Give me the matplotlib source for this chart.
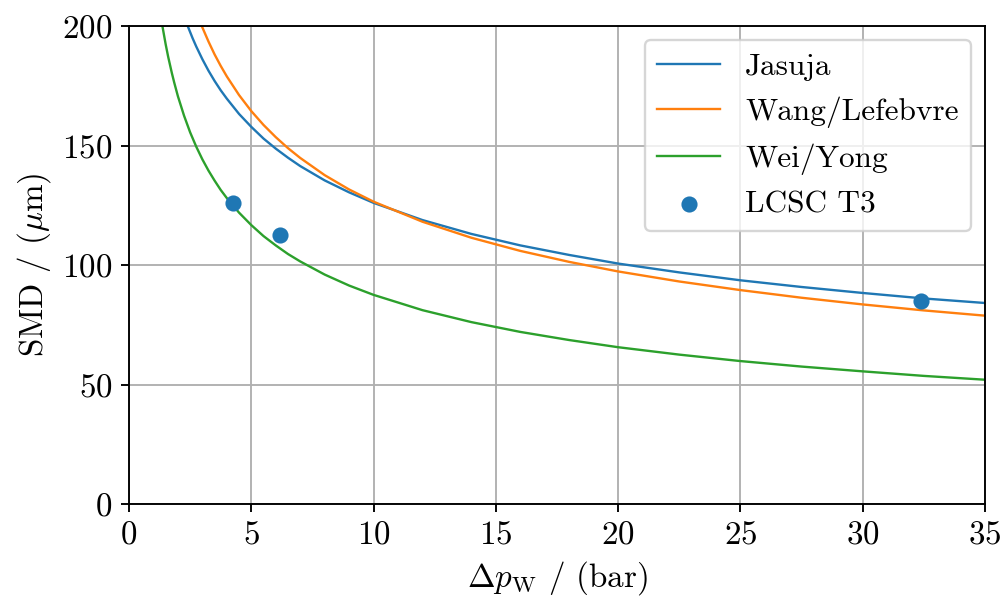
import matplotlib
matplotlib.use("Agg")
import matplotlib.pyplot as plt

plt.rcParams["font.family"] = "serif"
plt.rcParams["font.serif"] = ["cmr10", "DejaVu Serif"]
plt.rcParams["mathtext.fontset"] = "cm"
plt.rcParams["axes.formatter.use_mathtext"] = True
plt.rcParams["font.size"] = 14

# Jasuja correlation
p_jasuja = [2.4, 2.6, 2.75, 3.0, 3.25, 3.5, 3.75, 4.0, 4.5, 5.0, 5.5, 6.0, 6.5, 7.0,
            8.0, 9.0, 10.0, 12.0, 14.0, 16.0, 18.0, 20.0, 22.5, 25.0, 27.5, 30.0,
            32.5, 35.0]
smd_jasuja = [200.0, 194.9, 191.4, 186.1, 181.3, 177.0, 173.1, 169.6, 163.2, 157.8,
              152.9, 148.7, 144.9, 141.4, 135.4, 130.4, 126.0, 118.8, 113.0, 108.2,
              104.2, 100.6, 96.9, 93.6, 90.8, 88.3, 86.0, 84.1]

# Wang/Lefebvre correlation
p_wang = [2.95, 3.0, 3.25, 3.5, 3.75, 4.0, 4.5, 5.0, 5.5, 6.0, 6.5, 7.0, 8.0, 9.0,
          10.0, 12.0, 14.0, 16.0, 18.0, 20.0, 22.5, 25.0, 27.5, 30.0, 32.5, 35.0]
smd_wang = [200.5, 199.4, 193.5, 188.1, 183.3, 178.9, 171.1, 164.4, 158.6, 153.5,
            148.9, 144.8, 137.6, 131.6, 126.5, 118.1, 111.4, 105.9, 101.3, 97.3,
            93.1, 89.5, 86.3, 83.5, 81.0, 78.8]

# Wei/Yong correlation
p_wei = [1.36, 1.5, 1.6, 1.75, 1.85, 2.0, 2.25, 2.5, 2.75, 3.0, 3.25, 3.5, 3.75,
         4.0, 4.5, 5.0, 5.5, 6.0, 6.5, 7.0, 8.0, 9.0, 10.0, 12.0, 14.0, 16.0, 18.0,
         20.0, 22.5, 25.0, 27.5, 30.0, 32.5, 35.0]
smd_wei = [200.3, 192.3, 187.2, 180.4, 176.3, 170.6, 162.5, 155.5, 149.5, 144.2,
           139.5, 135.3, 131.4, 128.0, 121.9, 116.7, 112.1, 108.2, 104.6, 101.5,
           96.0, 91.4, 87.5, 81.1, 76.1, 72.0, 68.6, 65.6, 62.5, 59.8, 57.5, 55.5,
           53.6, 52.0]

# Measurements
p_lcsc = [4.26, 6.17, 32.4]
smd_lcsc = [126.0, 112.6, 84.8]

fig = plt.figure(figsize=(1003 / 170, 603 / 170), dpi=170)
ax = fig.add_axes([129 / 1003, 1 - 504 / 603, (985 - 129) / 1003, (504 - 26) / 603])

ax.plot(p_jasuja, smd_jasuja, color="C0", lw=1.0, label="Jasuja")
ax.plot(p_wang, smd_wang, color="C1", lw=1.0, label="Wang/Lefebvre")
ax.plot(p_wei, smd_wei, color="C2", lw=1.0, label="Wei/Yong")
ax.scatter(p_lcsc, smd_lcsc, color="C0", s=34, label="LCSC T3", zorder=3)

ax.set_xlim(0, 35)
ax.set_ylim(0, 200)
ax.set_xticks(range(0, 36, 5))
ax.set_yticks(range(0, 201, 50))
ax.grid(True)
ax.set_axisbelow(True)
ax.set_xlabel(r"$\Delta p_\mathrm{W}$ / (bar)")
ax.set_ylabel(r"SMD / ($\mu$m)")
ax.legend(loc="upper right", fontsize=13.25, borderaxespad=0.45)

fig.savefig("out.png", dpi=170)
